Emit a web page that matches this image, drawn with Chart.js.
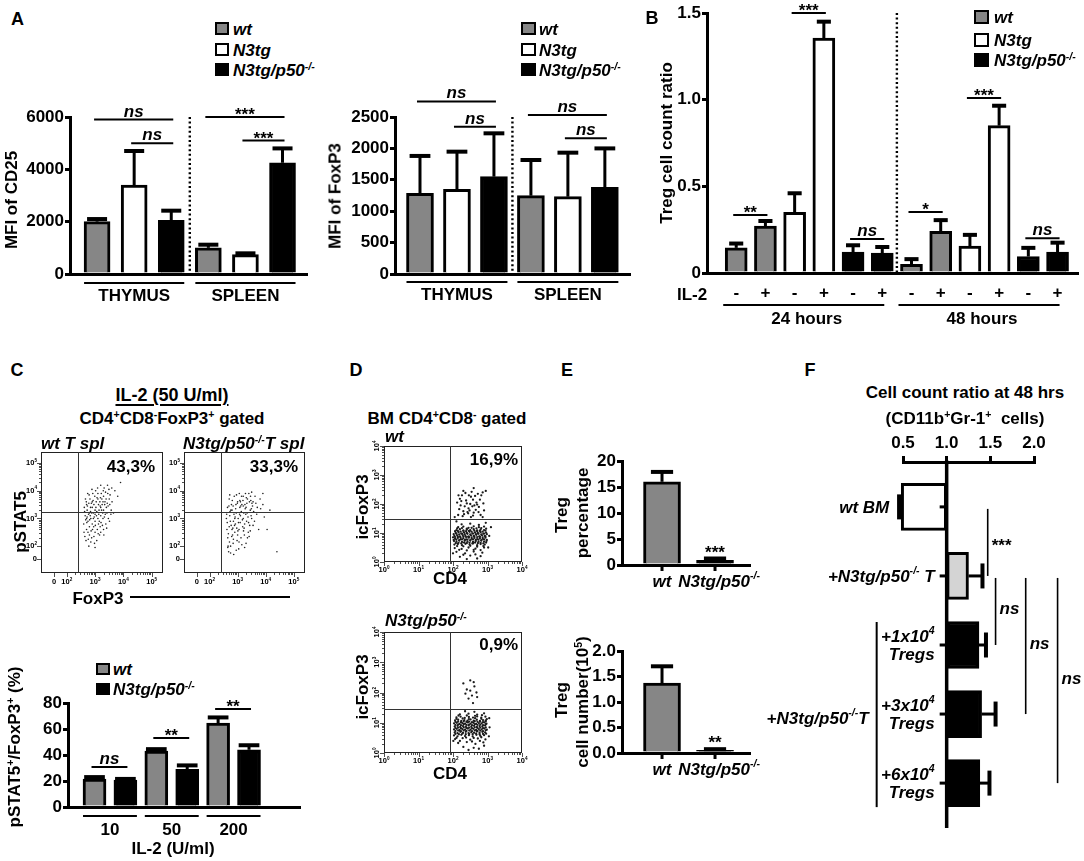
<!DOCTYPE html>
<html>
<head>
<meta charset="utf-8">
<title>Treg figure</title>
<script src="https://cdn.jsdelivr.net/npm/chart.js@4.4.1/dist/chart.umd.min.js"></script>
<style>
html, body { margin: 0; padding: 0; background: #fff; }
#page { position: relative; width: 1084px; height: 861px; overflow: hidden; background: #fff;
  font-family: "Liberation Sans", Arial, Helvetica, sans-serif; font-weight: bold; color: #000; }
canvas.cv { position: absolute; }
.t { position: absolute; white-space: nowrap; line-height: 1; font-size: 17px; }
.sup { font-size: 0.62em; position: relative; top: -0.55em; }
.lg { position: absolute; box-sizing: border-box; border: 2px solid #000; }
.rule { position: absolute; height: 2px; background: #000; }
</style>
</head>
<body>
<div id="page"></div>
<script>
// ================= DATA =================
// Panel A
const tissues = ['THYMUS', 'SPLEEN'];
const genotypes = ['wt', 'N3tg', 'N3tg/p50^{-/-}'];
const cd25Mfi = [2000, 3400, 2050, 1000, 740, 4250];
const cd25Sem = [100, 1300, 370, 120, 50, 550];
const foxp3Mfi = [1285, 1350, 1550, 1247, 1231, 1380];
const foxp3Sem = [595, 598, 690, 568, 701, 620];
const cd25Ticks = [0, 2000, 4000, 6000];
const foxp3Ticks = [0, 500, 1000, 1500, 2000, 2500];
const cd25Sig = [[1, 3, 5900, 'ns'], [2, 3, 5000, 'ns'], [4, 6, 6000, '***'], [5, 6, 5100, '***']];
const foxp3Sig = [[1, 3, 2747, 'ns'], [2, 3, 2346, 'ns'], [4, 6, 2532, 'ns'], [5, 6, 2160, 'ns']];

// Panel B
const timepoints = ['24 hours', '48 hours'];
const il2 = ['-', '+', '-', '+', '-', '+', '-', '+', '-', '+', '-', '+'];
const tregGeno = [0, 0, 1, 1, 2, 2, 0, 0, 1, 1, 2, 2];
const tregRatio = [0.145, 0.27, 0.35, 1.355, 0.12, 0.115, 0.05, 0.24, 0.155, 0.85, 0.095, 0.12];
const tregRatioSem = [0.025, 0.03, 0.11, 0.095, 0.04, 0.035, 0.03, 0.065, 0.065, 0.115, 0.05, 0.055];
const ratioTicks = [0, 0.5, 1.0, 1.5];
const ratioSig = [[1, 2, 0.335, '**'], [3, 4, 1.5, '***'], [5, 6, 0.196, 'ns'], [7, 8, 0.352, '*'], [9, 10, 1.01, '***'], [11, 12, 0.2, 'ns']];

// Panel C
const il2Doses = ['10', '50', '200'];
const pstatWt = [21.5, 43, 64.5];
const pstatWtSem = [1.5, 1.5, 4.4];
const pstatKo = [20.8, 29, 44];
const pstatKoSem = [0.8, 3, 3.5];
const pstatTicks = [0, 20, 40, 60, 80];
const pstatSig = [[1, 2, 30.8, 'ns'], [3, 4, 53, '**'], [5, 6, 75.4, '**']];
const pstatPct = ['43,3%', '33,3%'];
const flowTickPosC = [1.55, 2, 3, 4, 5];
const flowTickLblC = ['0', '10^{2}', '10^{3}', '10^{4}', '10^{5}'];
const gateFoxp3C = 2.4, gatePstat5C = 3.25;
// [log FoxP3, log pSTAT5]
const wtTspl = [
[2.7,3.5],[2.8,3.2],[2.9,3.6],[3.0,3.3],[3.1,3.7],[3.2,3.4],[3.3,3.8],[2.75,2.9],[2.85,3.0],[2.95,2.7],
[3.05,3.1],[3.15,2.9],[3.25,3.5],[3.35,3.6],[3.45,3.9],[2.65,3.1],[2.7,2.6],[2.8,2.4],[2.9,2.8],[3.0,2.5],
[3.1,3.0],[3.2,3.1],[3.3,3.3],[3.4,3.4],[3.5,3.7],[2.6,2.8],[2.72,3.3],[2.82,3.7],[2.92,3.9],[3.02,4.0],
[3.12,3.5],[3.22,3.9],[3.32,4.1],[3.42,3.2],[3.52,3.5],[2.68,2.2],[2.78,2.0],[2.88,2.3],[2.98,2.1],[3.08,2.6],
[3.18,2.7],[3.28,3.0],[3.38,2.8],[3.6,3.6],[3.7,4.0],[3.8,3.8],[2.62,3.4],[2.74,3.9],[2.84,3.4],[2.94,3.2],
[3.04,3.6],[3.14,3.3],[3.24,3.7],[3.34,3.5],[3.44,4.2],[2.7,3.0],[2.8,2.7],[2.9,3.4],[3.0,2.9],[3.1,3.9],
[3.2,2.5],[3.3,2.6],[2.75,2.5],[2.85,2.15],[3.0,1.95],[3.2,4.2],[3.9,4.3],[3.65,3.2],[2.66,3.7],[2.96,3.5],
[2.63,3.25],[2.73,3.45],[2.83,3.1],[2.93,3.65],[3.03,3.4],[3.13,3.15],[3.23,3.3],[3.33,3.05],[3.43,3.55],[3.53,3.85],
[2.67,2.95],[2.77,3.15],[2.87,3.55],[2.97,3.05],[3.07,3.75],[3.17,3.6],[3.27,3.2],[3.37,3.95],[3.47,3.0],[3.57,3.3],
[2.61,2.5],[2.71,2.85],[2.81,2.95],[2.91,2.6],[3.01,2.75],[3.11,2.45],[3.21,2.85],[3.31,2.4],[3.41,2.65],[3.51,2.9],
[2.69,3.6],[2.79,3.85],[2.89,4.05],[2.99,3.8],[3.09,4.1],[3.19,3.75],[3.29,4.0],[3.39,3.7],[3.49,4.05],[3.59,4.1],
[2.64,2.35],[2.76,2.25],[2.86,2.55],[2.96,2.35],[3.06,2.2],[3.16,2.4],[3.26,2.75],[3.36,3.15],[3.46,3.45],[3.56,3.15],
[2.72,3.05],[2.84,3.25],[2.94,3.0],[3.06,3.25],[3.18,3.45],[3.28,3.6],[2.78,3.55],[2.88,3.2],[3.0,3.15],[3.12,2.8]
];
const koTspl = [
[2.6,3.0],[2.7,2.7],[2.8,3.3],[2.9,2.5],[3.0,3.6],[3.1,3.1],[3.2,3.8],[3.3,3.4],[3.4,3.9],[3.5,3.0],
[2.65,2.3],[2.75,2.0],[2.85,2.9],[2.95,3.2],[3.05,2.6],[3.15,3.5],[3.25,2.8],[3.35,3.7],[3.45,3.3],[3.55,3.6],
[2.62,2.6],[2.72,3.1],[2.82,2.4],[2.92,2.8],[3.02,3.0],[3.12,2.3],[3.22,3.2],[3.32,2.9],[3.42,3.6],[3.62,3.8],
[2.68,1.8],[2.78,3.5],[2.88,3.8],[2.98,2.2],[3.08,3.4],[3.18,2.7],[3.28,3.9],[3.38,2.5],[3.48,3.1],[3.7,3.4],
[2.64,3.4],[2.74,2.9],[2.84,2.1],[2.94,3.5],[3.04,1.9],[3.14,3.8],[3.24,2.4],[3.34,3.2],[3.8,3.7],[3.9,3.5],
[2.7,3.7],[2.8,2.6],[2.9,3.0],[3.0,2.4],[3.1,3.6],[3.2,3.0],[3.6,2.9],[3.75,2.6],[4.05,2.6],[4.4,1.8],
[2.66,2.0],[2.86,1.7],[3.06,3.9],[3.26,3.5],[3.46,3.8],[3.9,3.9],[3.3,2.1],[2.76,3.3],
[2.63,2.85],[2.73,3.25],[2.83,2.65],[2.93,3.35],[3.03,2.85],[3.13,3.25],[3.23,2.65],[3.33,3.55],[3.43,2.75],[3.53,3.45],
[2.67,2.45],[2.77,2.75],[2.87,3.15],[2.97,2.65],[3.07,3.15],[3.17,2.95],[3.27,3.35],[3.37,3.05],[3.47,3.65],[3.57,3.25],
[2.61,3.15],[2.71,2.15],[2.81,3.65],[2.91,3.05],[3.01,2.55],[3.11,3.45],[3.21,2.55],[3.31,3.75],[3.41,2.35],[3.51,3.55],
[2.69,3.45],[2.79,2.35],[2.89,2.75],[2.99,3.55],[3.09,2.85],[3.19,3.65],[3.29,3.15],[3.39,2.85],[3.49,3.35],[3.65,3.55],
[2.65,1.95],[2.75,1.75],[2.85,2.25],[2.95,1.85],[3.05,2.15],[3.15,2.05],[3.25,1.95],[3.35,2.3],[3.45,2.55],[3.55,2.75],
[2.72,3.85],[2.84,3.45],[2.96,3.85],[3.08,3.65],[3.2,3.45],[3.5,3.95],[3.68,3.15],[3.82,3.35],[3.95,3.05],[4.15,3.3]
];

// Panel D
const bmPct = ['16,9%', '0,9%'];
const flowTickPosD = [0, 1, 2, 3, 4];
const flowTickLblD = ['10^{0}', '10^{1}', '10^{2}', '10^{3}', '10^{4}'];
const gateCd4D = 1.91;
const gateFoxp3D = [1.48, 1.45];
// [log CD4, log icFoxP3]
const bmWt = [
[2.15,1.62],[2.22,1.95],[2.3,1.75],[2.38,2.12],[2.45,1.85],[2.52,2.25],[2.6,1.7],[2.68,2.05],[2.75,1.9],[2.82,2.3],
[2.2,2.18],[2.28,1.58],[2.36,2.38],[2.44,1.68],[2.5,2.0],[2.58,2.15],[2.66,1.8],[2.72,2.35],[2.8,1.62],[2.88,2.02],
[2.18,1.82],[2.34,1.92],[2.48,1.78],[2.56,1.92],[2.64,2.28],[2.4,2.02],[2.7,1.98],[2.9,1.78],[2.26,2.3],[2.54,2.42],
[2.05,1.55],[2.95,2.45],[2.6,2.55],[2.12,2.05],[2.86,1.55],
[2.24,2.1],[2.32,1.65],[2.46,2.3],[2.62,1.95],[2.78,2.15],[2.42,1.72],[2.58,1.6],[2.74,1.72],[2.3,2.45],[2.86,2.4],[2.16,2.3],[2.52,1.55],
[2.2,0.18],[2.5,0.22],[2.8,0.2],[2.4,0.1],[2.7,0.12],
[2.1,0.35],[2.35,0.3],[2.6,0.36],[2.85,0.32],[2.0,0.3],
[2.05,0.48],[2.25,0.45],[2.45,0.5],[2.65,0.46],[2.9,0.5],[3.02,0.5],
[2.04,0.6],[2.14,0.62],[2.26,0.58],[2.36,0.63],[2.48,0.6],[2.58,0.64],[2.7,0.58],[2.8,0.62],[2.92,0.6],
[2.03,0.72],[2.1,0.7],[2.18,0.74],[2.26,0.69],[2.34,0.73],[2.42,0.7],[2.5,0.74],[2.58,0.69],[2.66,0.72],[2.74,0.7],[2.82,0.74],[2.9,0.7],[2.97,0.72],
[2.06,0.8],[2.14,0.83],[2.22,0.79],[2.3,0.82],[2.38,0.78],[2.46,0.84],[2.54,0.8],[2.62,0.83],[2.7,0.79],[2.78,0.82],[2.86,0.8],[2.94,0.84],
[2.04,0.9],[2.12,0.92],[2.2,0.88],[2.28,0.93],[2.36,0.9],[2.44,0.87],[2.52,0.92],[2.6,0.9],[2.68,0.94],[2.76,0.88],[2.84,0.92],[2.92,0.9],[3.05,0.9],[2.0,0.85],
[2.08,1.0],[2.16,1.03],[2.24,0.98],[2.32,1.02],[2.4,1.0],[2.48,1.04],[2.56,0.99],[2.64,1.02],[2.72,1.0],[2.8,1.03],[2.88,0.98],[2.96,1.01],
[2.1,1.1],[2.2,1.13],[2.3,1.08],[2.4,1.12],[2.5,1.1],[2.6,1.13],[2.7,1.09],[2.8,1.12],[2.9,1.1],
[2.15,1.2],[2.3,1.22],[2.45,1.18],[2.6,1.23],[2.75,1.2],[2.9,1.22],[3.1,1.2],
[2.25,1.3],[2.5,1.32],[2.75,1.28],[2.95,1.35],[2.1,1.4],
[2.08,0.65],[2.16,0.66],[2.24,0.64],[2.32,0.67],[2.4,0.65],[2.48,0.66],[2.56,0.64],[2.64,0.67],[2.72,0.65],[2.8,0.66],[2.88,0.64],[2.96,0.67],
[2.02,0.76],[2.1,0.77],[2.18,0.75],[2.26,0.78],[2.34,0.76],[2.42,0.77],[2.5,0.75],[2.58,0.78],[2.66,0.76],[2.74,0.77],[2.82,0.75],[2.9,0.78],[2.98,0.76],
[2.06,0.86],[2.14,0.87],[2.22,0.85],[2.3,0.88],[2.38,0.86],[2.46,0.87],[2.54,0.85],[2.62,0.88],[2.7,0.86],[2.78,0.87],[2.86,0.85],[2.94,0.88],
[2.02,0.96],[2.1,0.97],[2.18,0.95],[2.26,0.98],[2.34,0.96],[2.42,0.97],[2.5,0.95],[2.58,0.98],[2.66,0.96],[2.74,0.97],[2.82,0.95],[2.9,0.98],[2.98,0.96],
[2.06,1.06],[2.14,1.07],[2.22,1.05],[2.3,1.08],[2.38,1.06],[2.46,1.07],[2.54,1.05],[2.62,1.08],[2.7,1.06],[2.78,1.07],[2.86,1.05],[2.94,1.08],
[2.12,1.16],[2.26,1.17],[2.4,1.15],[2.54,1.18],[2.68,1.16],[2.82,1.17],[2.96,1.15],
[2.12,0.55],[2.3,0.54],[2.5,0.56],[2.7,0.53],[2.88,0.55],
[2.18,0.42],[2.4,0.4],[2.6,0.42],[2.8,0.41],[2.3,0.25],[2.65,0.26]
];
const bmKo = [
[2.3,2.3],[2.4,2.1],[2.5,2.4],[2.55,1.9],[2.62,2.2],[2.45,1.8],[2.68,2.0],[2.36,1.96],[2.6,2.34],[2.7,1.85],[2.5,2.06],[2.58,1.65],
[2.3,0.2],[2.6,0.17],[2.9,0.24],[2.45,0.1],[2.75,0.14],
[2.15,0.33],[2.4,0.36],[2.65,0.3],[2.88,0.35],[2.01,0.4],
[2.06,0.46],[2.28,0.49],[2.5,0.44],[2.72,0.48],[2.94,0.45],[3.04,0.55],
[2.03,0.58],[2.13,0.55],[2.24,0.6],[2.35,0.56],[2.46,0.59],[2.57,0.55],[2.68,0.6],[2.79,0.57],[2.9,0.59],
[2.05,0.68],[2.13,0.66],[2.21,0.7],[2.29,0.67],[2.37,0.7],[2.45,0.66],[2.53,0.69],[2.61,0.67],[2.69,0.71],[2.77,0.67],[2.85,0.7],[2.93,0.68],
[2.03,0.78],[2.11,0.8],[2.19,0.76],[2.27,0.79],[2.35,0.77],[2.43,0.81],[2.51,0.77],[2.59,0.8],[2.67,0.76],[2.75,0.79],[2.83,0.78],[2.91,0.81],[2.98,0.77],
[2.05,0.88],[2.13,0.9],[2.21,0.86],[2.29,0.89],[2.37,0.87],[2.45,0.91],[2.53,0.87],[2.61,0.9],[2.69,0.86],[2.77,0.89],[2.85,0.88],[2.93,0.91],[3.06,0.85],
[2.03,0.98],[2.11,1.0],[2.19,0.96],[2.27,0.99],[2.35,0.97],[2.43,1.01],[2.51,0.97],[2.59,1.0],[2.67,0.96],[2.75,0.99],[2.83,0.98],[2.91,1.01],[2.97,0.97],
[2.06,1.08],[2.15,1.1],[2.24,1.06],[2.33,1.09],[2.42,1.07],[2.51,1.11],[2.6,1.07],[2.69,1.1],[2.78,1.06],[2.87,1.09],[2.95,1.08],
[2.1,1.18],[2.22,1.2],[2.34,1.16],[2.46,1.19],[2.58,1.17],[2.7,1.21],[2.82,1.17],[2.94,1.2],[3.05,1.15],
[2.2,1.28],[2.45,1.3],[2.7,1.27],[2.9,1.31],[2.35,1.38],[2.62,1.36],
[2.07,0.63],[2.17,0.62],[2.27,0.64],[2.37,0.62],[2.47,0.63],[2.57,0.62],[2.67,0.64],[2.77,0.62],[2.87,0.63],[2.96,0.64],
[2.07,0.73],[2.15,0.74],[2.23,0.72],[2.31,0.75],[2.39,0.73],[2.47,0.74],[2.55,0.72],[2.63,0.75],[2.71,0.73],[2.79,0.74],[2.87,0.72],[2.95,0.75],
[2.07,0.83],[2.15,0.84],[2.23,0.82],[2.31,0.85],[2.39,0.83],[2.47,0.84],[2.55,0.82],[2.63,0.85],[2.71,0.83],[2.79,0.84],[2.87,0.82],[2.95,0.85],
[2.07,0.93],[2.15,0.94],[2.23,0.92],[2.31,0.95],[2.39,0.93],[2.47,0.94],[2.55,0.92],[2.63,0.95],[2.71,0.93],[2.79,0.94],[2.87,0.92],[2.95,0.95],
[2.07,1.03],[2.15,1.04],[2.23,1.02],[2.31,1.05],[2.39,1.03],[2.47,1.04],[2.55,1.02],[2.63,1.05],[2.71,1.03],[2.79,1.04],[2.87,1.02],[2.95,1.05],
[2.1,1.13],[2.28,1.14],[2.46,1.12],[2.64,1.15],[2.82,1.13],[2.98,1.12],
[2.16,1.24],[2.4,1.24],[2.64,1.23],[2.84,1.25],
[2.1,0.5],[2.38,0.51],[2.6,0.5],[2.82,0.52],[2.2,0.4],[2.55,0.38],[2.78,0.4]
];

// Panel E
const eGroups = ['wt', 'N3tg/p50^{-/-}'];
const tregPct = [16, 0.9];
const tregPctSem = [1.9, 0.35];
const tregPctSig = ['', '***'];
const tregPctTicks = [0, 5, 10, 15, 20];
const tregNum = [1.37, 0.05];
const tregNumSem = [0.33, 0.025];
const tregNumSig = ['', '**'];
const tregNumTicks = [0, 0.5, 1.0, 1.5, 2.0];

// Panel F
const fGroups = ['wt BM', '+N3tg/p50^{-/-} T', '+1x10^{4}|Tregs', '+3x10^{4}|Tregs', '+6x10^{4}|Tregs'];
const fRatio = [0.48, 1.25, 1.37, 1.40, 1.38];
const fRatioSem = [0.025, 0.16, 0.08, 0.16, 0.11];
const fTicks = [0.5, 1.0, 1.5, 2.0];
const fBracket = ['+N3tg/p50^{-/-}T', 3, 5];
const fSig = [[1, 2, 1.47, '***'], [2, 3, 1.56, 'ns'], [2, 4, 1.905, 'ns'], [2, 5, 2.27, 'ns']];

// ================= RENDERING =================
const FONT = '"Liberation Sans", Arial, Helvetica, sans-serif';
const GRAY = '#868686', WHITE = '#ffffff', BLACK = '#000000', LIGHT = '#d4d4d4';
const genoFill = [GRAY, WHITE, BLACK];
Chart.defaults.font.family = FONT;
const page = document.getElementById('page');

function supHtml(s) { return s.replace(/\^\{([^}]*)\}/g, '<span class="sup">$1</span>'); }
function T(s, x, y, o) {
  o = o || {};
  const d = document.createElement('div');
  d.className = 't';
  d.innerHTML = supHtml(s);
  d.style.left = x + 'px';
  d.style.top = y + 'px';
  if (o.size) d.style.fontSize = o.size + 'px';
  if (o.italic) d.style.fontStyle = 'italic';
  if (o.underline) { d.style.textDecoration = 'underline'; d.style.textDecorationThickness = '2px'; d.style.textUnderlineOffset = '3px'; }
  const tx = o.rotate ? '-50%' : (o.align === 'left' ? '0' : o.align === 'right' ? '-100%' : '-50%');
  d.style.transform = 'translate(' + tx + ',-50%)' + (o.rotate ? ' rotate(-90deg)' : '');
  page.appendChild(d);
  return d;
}
function box(x, y, w, h, fill) {
  const d = document.createElement('div');
  d.className = 'lg';
  Object.assign(d.style, { left: x + 'px', top: y + 'px', width: w + 'px', height: h + 'px', background: fill });
  page.appendChild(d);
}
function rule(x1, x2, y) {
  const d = document.createElement('div');
  d.className = 'rule';
  Object.assign(d.style, { left: x1 + 'px', top: (y - 1) + 'px', width: (x2 - x1) + 'px' });
  page.appendChild(d);
}
function makeCanvas(x, y, w, h) {
  const c = document.createElement('canvas');
  c.className = 'cv';
  c.style.left = x + 'px'; c.style.top = y + 'px';
  c.style.width = w + 'px'; c.style.height = h + 'px';
  c.width = w; c.height = h;
  page.appendChild(c);
  return c;
}

// canvas helpers
function seg(ctx, x1, y1, x2, y2, w) {
  ctx.beginPath(); ctx.setLineDash([]); ctx.lineWidth = w; ctx.strokeStyle = '#000'; ctx.lineCap = 'butt';
  ctx.moveTo(x1, y1); ctx.lineTo(x2, y2); ctx.stroke();
}
function dotted(ctx, x, y1, y2) {
  ctx.save(); ctx.beginPath(); ctx.setLineDash([2, 2.6]); ctx.lineWidth = 2.4; ctx.strokeStyle = '#000';
  ctx.moveTo(x, y1); ctx.lineTo(x, y2); ctx.stroke(); ctx.restore();
}
function rich(ctx, s, x, y, o) {
  o = o || {};
  const size = o.size || 17;
  const pre = (o.italic ? 'italic ' : '') + 'bold ';
  const parts = [];
  s.replace(/([^^]+)|\^\{([^}]*)\}/g, (m, a, b) => { if (a) parts.push({ t: a, sup: false }); else parts.push({ t: b, sup: true }); return m; });
  let w = 0;
  parts.forEach(p => { ctx.font = pre + (p.sup ? size * 0.62 : size) + 'px ' + FONT; p.w = ctx.measureText(p.t).width; w += p.w; });
  let sx = o.align === 'right' ? x - w : (o.align === 'left' ? x : x - w / 2);
  ctx.fillStyle = '#000'; ctx.textAlign = 'left'; ctx.textBaseline = 'middle';
  parts.forEach(p => {
    ctx.font = pre + (p.sup ? size * 0.62 : size) + 'px ' + FONT;
    ctx.fillText(p.t, sx, p.sup ? y - size * 0.34 : y);
    sx += p.w;
  });
  return w;
}
function richRot(ctx, s, x, y, o) {
  ctx.save(); ctx.translate(x, y); ctx.rotate(-Math.PI / 2); rich(ctx, s, 0, 0, o); ctx.restore();
}
function sigLabel(ctx, lab, x, y, align) {
  const star = lab.indexOf('*') >= 0;
  ctx.font = (star ? '' : 'italic ') + 'bold 17px ' + FONT;
  ctx.fillStyle = '#000'; ctx.textAlign = align || 'center'; ctx.textBaseline = 'alphabetic';
  ctx.fillText(lab, x, star ? y + 3 : y - 3);
}
function sigBars(ctx, xs, ys, list) {
  list.forEach(s => {
    const x1 = xs.getPixelForValue(s[0]) - 3, x2 = xs.getPixelForValue(s[1]) + 2, y = ys.getPixelForValue(s[2]);
    seg(ctx, x1, y, x2, y, 2);
    sigLabel(ctx, s[3], (x1 + x2) / 2, y);
  });
}
function vErrors(ctx, xs, ys, pos, mean, sem, barW, cap) {
  mean.forEach((m, i) => {
    const x = xs.getPixelForValue(pos[i]);
    const y0 = ys.getPixelForValue(m), y1 = ys.getPixelForValue(m + sem[i]);
    seg(ctx, x, y0, x, y1, 3);
    seg(ctx, x - barW * cap / 2, y1, x + barW * cap / 2, y1, 4);
  });
}
function underGroups(ctx, xs, ys, groups, barW, dLine, dText) {
  const yb = ys.getPixelForValue(0);
  groups.forEach(g => {
    const x1 = xs.getPixelForValue(g[0]) - barW / 2, x2 = xs.getPixelForValue(g[1]) + barW / 2;
    seg(ctx, x1, yb + dLine, x2, yb + dLine, 2);
    rich(ctx, g[2], (x1 + x2) / 2, yb + dText, {});
  });
}

function barChart(o) {
  const bx = o.box[0], by = o.box[1], bw = o.box[2], bh = o.box[3];
  const l = o.area[0], t = o.area[1], r = o.area[2], b = o.area[3];
  const c = makeCanvas(bx, by, bw, bh);
  const pos = o.values.map((v, i) => i + 1);
  return new Chart(c, {
    type: 'bar',
    data: { datasets: [{ data: o.values.map((v, i) => ({ x: pos[i], y: v })), backgroundColor: o.colors, borderColor: '#000',
      borderWidth: 3, borderSkipped: 'start', barThickness: o.barW, clip: false }] },
    options: {
      responsive: false, animation: false, events: [],
      layout: { padding: { top: t - by, right: bx + bw - r, left: 0, bottom: 0 } },
      plugins: { legend: { display: false }, tooltip: { enabled: false }, title: { display: false } },
      scales: {
        x: { type: 'linear', offset: false, min: o.xr[0], max: o.xr[1], grid: { display: false, offset: false }, ticks: { display: false },
             border: { display: true, width: 3, color: '#000' }, afterFit: s => { s.height = by + bh - b; } },
        y: { type: 'linear', min: 0, max: o.yTicks[o.yTicks.length - 1],
             afterBuildTicks: s => { s.ticks = o.yTicks.map(v => ({ value: v })); },
             ticks: { color: '#000', padding: 1, font: { family: FONT, size: 17, weight: 'bold' }, callback: o.fmt || (v => String(v)) },
             grid: { display: true, drawOnChartArea: false, drawTicks: true, tickLength: 5, lineWidth: 3, color: '#000' },
             border: { display: true, width: 3, color: '#000' },
             afterFit: s => { s.width = l - bx; } }
      }
    },
    plugins: [{ id: 'deco', afterDatasetsDraw(ch) { const ctx = ch.ctx; ctx.save(); o.draw(ctx, ch.scales.x, ch.scales.y, pos, ch); ctx.restore(); } }]
  });
}

function flowPlot(o) {
  const bx = o.box[0], by = o.box[1], bw = o.box[2], bh = o.box[3];
  const A = o.area;
  const c = makeCanvas(bx, by, bw, bh);
  new Chart(c, {
    type: 'scatter',
    data: { datasets: [{ data: o.pts.map(p => ({ x: p[0], y: p[1] })), pointRadius: o.r, pointBackgroundColor: o.color,
      pointBorderWidth: 0, pointBorderColor: 'rgba(0,0,0,0)', showLine: false }] },
    options: {
      responsive: false, animation: false, events: [],
      layout: { padding: { left: A[0] - bx, top: A[1] - by, right: bx + bw - A[2], bottom: by + bh - A[3] } },
      plugins: { legend: { display: false }, tooltip: { enabled: false } },
      scales: { x: { type: 'linear', display: false, offset: false, min: o.xr[0], max: o.xr[1] },
                y: { type: 'linear', display: false, offset: false, min: o.yr[0], max: o.yr[1] } }
    },
    plugins: [{ id: 'flow', afterDatasetsDraw(ch) {
      const ctx = ch.ctx, a = ch.chartArea, xs = ch.scales.x, ys = ch.scales.y;
      ctx.save();
      ctx.setLineDash([]);
      ctx.strokeStyle = '#222'; ctx.lineWidth = 1;
      ctx.strokeRect(a.left + 0.5, a.top + 0.5, a.right - a.left - 1, a.bottom - a.top - 1);
      const gx = Math.round(xs.getPixelForValue(o.gate[0])) + 0.5, gy = Math.round(ys.getPixelForValue(o.gate[1])) + 0.5;
      ctx.beginPath(); ctx.strokeStyle = '#333';
      ctx.moveTo(gx, a.top); ctx.lineTo(gx, a.bottom); ctx.moveTo(a.left, gy); ctx.lineTo(a.right, gy); ctx.stroke();
      const minor = [];
      for (let d = o.dec[0]; d < o.dec[1]; d++) for (let k = 2; k <= 9; k++) minor.push(d + Math.log10(k));
      ctx.beginPath(); ctx.strokeStyle = '#222'; ctx.lineWidth = 0.8;
      minor.forEach(v => {
        const px = Math.round(xs.getPixelForValue(v)) + 0.5, py = Math.round(ys.getPixelForValue(v)) + 0.5;
        if (px > a.left && px < a.right) { ctx.moveTo(px, a.bottom); ctx.lineTo(px, a.bottom + 2); }
        if (py > a.top && py < a.bottom) { ctx.moveTo(a.left, py); ctx.lineTo(a.left - 2, py); }
      });
      o.tickPos.forEach(v => {
        const px = Math.round(xs.getPixelForValue(v)) + 0.5, py = Math.round(ys.getPixelForValue(v)) + 0.5;
        ctx.moveTo(px, a.bottom); ctx.lineTo(px, a.bottom + 4);
        ctx.moveTo(a.left, py); ctx.lineTo(a.left - 4, py);
      });
      ctx.stroke();
      o.tickPos.forEach((v, i) => {
        const px = xs.getPixelForValue(v), py = ys.getPixelForValue(v);
        rich(ctx, o.tickLbl[i], px, a.bottom + o.xLblDy, { size: 7.5 });
        if (o.rotY) richRot(ctx, o.tickLbl[i], a.left - 7, py, { size: 7.5 });
        else rich(ctx, o.tickLbl[i], a.left - 4, py, { size: 7.5, align: 'right' });
      });
      rich(ctx, o.pct, a.right - o.pctD[0], a.top + o.pctD[1], { align: 'right' });
      ctx.restore();
    } }]
  });
}

// ---------- Panel A ----------
barChart({
  box: [0, 85, 330, 230], area: [70, 117, 307, 274], xr: [0.27, 6.66], barW: 26,
  values: cd25Mfi, colors: cd25Mfi.map((v, i) => genoFill[i % 3]), yTicks: cd25Ticks,
  draw(ctx, xs, ys, pos) {
    vErrors(ctx, xs, ys, pos, cd25Mfi, cd25Sem, 26, 0.77);
    dotted(ctx, xs.getPixelForValue(3.5), ys.getPixelForValue(cd25Ticks[cd25Ticks.length - 1]), ys.getPixelForValue(0));
    sigBars(ctx, xs, ys, cd25Sig);
    underGroups(ctx, xs, ys, [[1, 3, tissues[0]], [4, 6, tissues[1]]], 26, 9, 22);
  }
});
barChart({
  box: [340, 85, 300, 230], area: [395, 117, 630, 274], xr: [0.324, 6.68], barW: 27,
  values: foxp3Mfi, colors: foxp3Mfi.map((v, i) => genoFill[i % 3]), yTicks: foxp3Ticks,
  draw(ctx, xs, ys, pos) {
    vErrors(ctx, xs, ys, pos, foxp3Mfi, foxp3Sem, 27, 0.77);
    dotted(ctx, xs.getPixelForValue(3.5), ys.getPixelForValue(foxp3Ticks[foxp3Ticks.length - 1]), ys.getPixelForValue(0));
    sigBars(ctx, xs, ys, foxp3Sig);
    underGroups(ctx, xs, ys, [[1, 3, tissues[0]], [4, 6, tissues[1]]], 27, 8, 21);
  }
});

// ---------- Panel B ----------
barChart({
  box: [650, 0, 434, 330], area: [707, 13, 1078, 273], xr: [0, 12.7], barW: 22,
  values: tregRatio, colors: tregGeno.map(g => genoFill[g]), yTicks: ratioTicks,
  fmt: v => (v === 0 ? '0' : v.toFixed(1)),
  draw(ctx, xs, ys, pos) {
    vErrors(ctx, xs, ys, pos, tregRatio, tregRatioSem, 22, 0.64);
    dotted(ctx, xs.getPixelForValue(6.5), ys.getPixelForValue(ratioTicks[ratioTicks.length - 1]), ys.getPixelForValue(0));
    sigBars(ctx, xs, ys, ratioSig);
    const yb = ys.getPixelForValue(0);
    il2.forEach((s, i) => rich(ctx, s, xs.getPixelForValue(pos[i]), yb + 20, {}));
    timepoints.forEach((tp, k) => {
      const x1 = xs.getPixelForValue(pos[k * 6]) - 13, x2 = xs.getPixelForValue(pos[k * 6 + 5]) + 2;
      seg(ctx, x1, yb + 32, x2, yb + 32, 2);
      rich(ctx, tp, (x1 + x2) / 2 + 3, yb + 46, {});
    });
  }
});

// ---------- Panel C ----------
flowPlot({ box: [20, 445, 150, 150], area: [41, 452, 163, 573], xr: [1.09, 5.4], yr: [1.03, 5.4], pts: wtTspl, r: 0.8, color: '#222',
  gate: [gateFoxp3C, gatePstat5C], pct: pstatPct[0], pctD: [8, 15], tickPos: flowTickPosC, tickLbl: flowTickLblC,
  dec: [2, 5], xLblDy: 9, rotY: false });
flowPlot({ box: [165, 445, 150, 150], area: [184, 452, 305, 573], xr: [1.09, 5.4], yr: [1.03, 5.4], pts: koTspl, r: 0.8, color: '#222',
  gate: [gateFoxp3C, gatePstat5C], pct: pstatPct[1], pctD: [7, 15], tickPos: flowTickPosC, tickLbl: flowTickLblC,
  dec: [2, 5], xLblDy: 9, rotY: false });

const pstatVals = [], pstatSems = [], pstatCols = [];
il2Doses.forEach((d, i) => { pstatVals.push(pstatWt[i], pstatKo[i]); pstatSems.push(pstatWtSem[i], pstatKoSem[i]); pstatCols.push(GRAY, BLACK); });
barChart({
  box: [0, 690, 320, 171], area: [68, 703, 300, 807], xr: [0.142, 7.65], barW: 23,
  values: pstatVals, colors: pstatCols, yTicks: pstatTicks,
  draw(ctx, xs, ys, pos) {
    vErrors(ctx, xs, ys, pos, pstatVals, pstatSems, 23, 0.9);
    sigBars(ctx, xs, ys, pstatSig);
    underGroups(ctx, xs, ys, il2Doses.map((d, i) => [2 * i + 1, 2 * i + 2, d]), 23, 9, 23);
  }
});

// ---------- Panel D ----------
flowPlot({ box: [360, 440, 175, 150], area: [384, 446, 522, 562], xr: [0, 4], yr: [0, 4], pts: bmWt, r: 1.15, color: '#1a1a1a',
  gate: [gateCd4D, gateFoxp3D[0]], pct: bmPct[0], pctD: [4, 14], tickPos: flowTickPosD, tickLbl: flowTickLblD,
  dec: [0, 4], xLblDy: 8, rotY: true });
flowPlot({ box: [360, 625, 175, 150], area: [384, 632, 522, 753], xr: [0, 4], yr: [0, 4], pts: bmKo, r: 1.15, color: '#1a1a1a',
  gate: [gateCd4D, gateFoxp3D[1]], pct: bmPct[1], pctD: [4, 13], tickPos: flowTickPosD, tickLbl: flowTickLblD,
  dec: [0, 4], xLblDy: 8, rotY: true });

// ---------- Panel E ----------
function eChart(bx, area, vals, sems, sig, ticks, fmt) {
  barChart({ box: bx, area: area, xr: [0.245, 2.66], barW: 37, values: vals, colors: [GRAY, BLACK], yTicks: ticks, fmt: fmt,
    draw(ctx, xs, ys, pos) {
      vErrors(ctx, xs, ys, pos, vals, sems, 37, 0.6);
      const yb = ys.getPixelForValue(0);
      eGroups.forEach((g, i) => {
        const x = xs.getPixelForValue(pos[i]);
        seg(ctx, x, yb, x, yb + 6, 3);
        rich(ctx, g, x + (i === 1 ? 4 : 0), yb + 17, { italic: true });
        if (sig[i]) sigLabel(ctx, sig[i], x, ys.getPixelForValue(vals[i] + sems[i]) - 4);
      });
    }
  });
}
eChart([540, 440, 250, 160], [622, 461, 750, 565], tregPct, tregPctSem, tregPctSig, tregPctTicks);
eChart([540, 630, 250, 160], [622, 651, 750, 753], tregNum, tregNumSem, tregNumSig, tregNumTicks, v => v.toFixed(1));

// ---------- Panel F ----------
(function () {
  const bx = 740, by = 425, bw = 344, bh = 436;
  const l = 903, t = 462, r = 1034, b = 828;
  const c = makeCanvas(bx, by, bw, bh);
  const pos = fRatio.map((v, i) => i + 1);
  const fFill = [WHITE, LIGHT, BLACK, BLACK, BLACK];
  new Chart(c, {
    type: 'bar',
    data: { datasets: [{ data: fRatio.map((m, i) => ({ y: pos[i], x: [1, m] })), backgroundColor: fFill, borderColor: '#000',
      borderWidth: 3, borderSkipped: false, barThickness: 47, clip: false }] },
    options: {
      indexAxis: 'y', responsive: false, animation: false, events: [],
      layout: { padding: { left: l - bx, top: 7, right: bx + bw - r, bottom: by + bh - b } },
      plugins: { legend: { display: false }, tooltip: { enabled: false } },
      scales: {
        x: { type: 'linear', position: 'top', offset: false, min: fTicks[0], max: fTicks[fTicks.length - 1],
             afterBuildTicks: s => { s.ticks = fTicks.map(v => ({ value: v })); },
             ticks: { color: '#000', padding: 2, font: { family: FONT, size: 17, weight: 'bold' }, callback: v => v.toFixed(1) },
             grid: { display: true, drawOnChartArea: false, drawTicks: true, tickLength: 6, lineWidth: 3, color: '#000', offset: false },
             border: { display: true, width: 3, color: '#000' },
             afterFit: s => { s.height = t - by - 7; } },
        y: { type: 'linear', display: false, offset: false, reverse: true, min: 0.35, max: 5.65 }
      }
    },
    plugins: [{ id: 'fdeco', afterDatasetsDraw(ch) {
      const ctx = ch.ctx, xs = ch.scales.x, ys = ch.scales.y, a = ch.chartArea;
      ctx.save();
      const ax = xs.getPixelForValue(1);
      seg(ctx, ax, a.top - 1.5, ax, a.bottom, 3.5);
      pos.forEach((p, i) => {
        const y = ys.getPixelForValue(p);
        seg(ctx, ax - 7, y, ax, y, 3);
        const m = fRatio[i], e = fRatioSem[i];
        const xm = xs.getPixelForValue(m), xe = xs.getPixelForValue(m < 1 ? m - e : m + e);
        seg(ctx, xm, y, xe, y, 3);
        seg(ctx, xe, y - 12.5, xe, y + 12.5, 4);
        const left = Math.min(xs.getPixelForValue(Math.min(m, 1)), ax) - 12;
        const lines = fGroups[i].split('|');
        if (lines.length === 1) rich(ctx, lines[0], left, y + 1, { italic: true, align: 'right' });
        else { rich(ctx, lines[0], left, y - 8, { italic: true, align: 'right' }); rich(ctx, lines[1], left, y + 10, { italic: true, align: 'right' }); }
      });
      const y1 = ys.getPixelForValue(fBracket[1]) - 23, y2 = ys.getPixelForValue(fBracket[2]) + 24;
      seg(ctx, ax - 70, y1, ax - 70, y2, 2);
      rich(ctx, fBracket[0], ax - 78, ys.getPixelForValue((fBracket[1] + fBracket[2]) / 2) + 5, { italic: true, align: 'right' });
      fSig.forEach(s => {
        const x = xs.getPixelForValue(s[2]);
        const ya = ys.getPixelForValue(s[0]) + 2, yb2 = ys.getPixelForValue(s[1]);
        seg(ctx, x, ya, x, yb2, 1.6);
        sigLabel(ctx, s[3], x + 4, (ya + yb2) / 2 + 6, 'left');
      });
      ctx.restore();
    } }]
  });
})();

// ---------- Static text ----------
T('A', 17.5, 18.5, { size: 18 });
T('B', 652, 18, { size: 18 });
T('C', 17, 370, { size: 18 });
T('D', 356, 370, { size: 18 });
T('E', 567, 370, { size: 18 });
T('F', 810, 370, { size: 18 });

function legend(bx, bw, tops, bh, tx, labels, fills) {
  labels.forEach((lab, i) => { box(bx, tops[i], bw, bh, fills[i]); T(lab, tx, tops[i] + bh / 2, { italic: true, align: 'left' }); });
}
legend(215, 14, [22, 43, 63], 13, 233, genotypes, genoFill);
legend(521, 15, [22, 43, 63], 13, 539, genotypes, genoFill);
legend(974, 15, [10, 33, 53], 14, 994, genotypes, genoFill);
legend(96, 14, [663, 683], 12, 113, [genotypes[0], genotypes[2]], [GRAY, BLACK]);

T('MFI of CD25', 11, 200, { rotate: true });
T('MFI of FoxP3', 335, 196, { rotate: true });
T('Treg cell count ratio', 666, 143, { rotate: true });
T('IL-2', 677, 293.5, { align: 'left' });

T('IL-2 (50 U/ml)', 172, 395, { size: 18, underline: true });
T('CD4^{+}CD8^{-}FoxP3^{+} gated', 172, 418);
T('wt T spl', 41, 443, { italic: true, align: 'left' });
T('N3tg/p50^{-/-}T spl', 183, 443, { italic: true, align: 'left' });
T('pSTAT5', 19.5, 522, { rotate: true });
T('FoxP3', 98, 598);
rule(130, 290, 597);
T('pSTAT5^{+}/FoxP3^{+} (%)', 13.5, 747, { rotate: true });
T('IL-2 (U/ml)', 173, 848);

T('BM CD4^{+}CD8^{-} gated', 447, 418);
T('wt', 385, 436, { italic: true, align: 'left' });
T('icFoxP3', 362, 507, { rotate: true });
T('CD4', 450, 578);
T('N3tg/p50^{-/-}', 385, 620, { italic: true, align: 'left' });
T('icFoxP3', 362, 687, { rotate: true });
T('CD4', 450, 773);

T('Treg', 561, 515, { rotate: true });
T('percentage', 582, 513, { rotate: true });
T('Treg', 561, 700, { rotate: true });
T('cell number(10^{5})', 582, 702, { rotate: true });

T('Cell count ratio at 48 hrs', 965, 392);
T('(CD11b^{+}Gr-1^{+}&nbsp; cells)', 965, 418);
</script>
</body>
</html>
